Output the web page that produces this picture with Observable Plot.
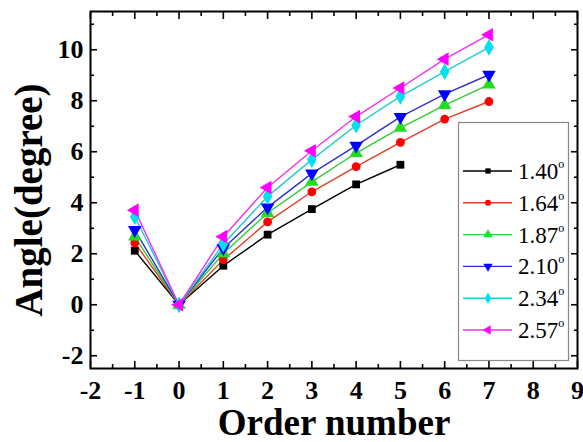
<!DOCTYPE html>
<html><head><meta charset="utf-8">
<script src="https://cdn.jsdelivr.net/npm/d3@7"></script>
<script src="https://cdn.jsdelivr.net/npm/@observablehq/plot@0.6"></script>
<style>
body{margin:0;background:#fff;}
#wrap{position:relative;width:583px;height:442px;}
#legend{position:absolute;left:0;top:0;}
</style></head>
<body><div id="wrap"></div>
<script>
const orders = [-1, 0, 1, 2, 3, 4, 5, 6, 7];
const seriesNames = ["1.40", "1.64", "1.87", "2.10", "2.34", "2.57"];
const colors = ["#000000", "#ff0000", "#22dd22", "#0000ff", "#00e0ee", "#ff00ff"];
const lineColors = ["#000000", "#e04020", "#33cc33", "#3030cc", "#22cccc", "#ee33ee"];
const s140 = [2.12, 0, 1.53, 2.75, 3.75, 4.72, 5.49];
const s164 = [2.43, 0, 1.76, 3.25, 4.43, 5.42, 6.37, 7.28, 7.97];
const s187 = [2.67, 0, 2.01, 3.60, 4.82, 5.95, 6.94, 7.83, 8.63];
const s210 = [2.93, 0, 2.22, 3.82, 5.15, 6.24, 7.37, 8.26, 9.02];
const s234 = [3.45, 0, 2.38, 4.25, 5.69, 7.04, 8.17, 9.14, 10.09];
const s257 = [3.71, 0, 2.67, 4.60, 6.04, 7.38, 8.50, 9.63, 10.59];
const xTicks = [-2, -1, 0, 1, 2, 3, 4, 5, 6, 7, 8, 9];
const yTicks = [-2, 0, 2, 4, 6, 8, 10];

const triangleDown = {draw(ctx, size){const y = -Math.sqrt(size/(Math.sqrt(3)*3)); const s = Math.sqrt(3);
  ctx.moveTo(0,-2*y); ctx.lineTo(s*y, y); ctx.lineTo(-s*y, y); ctx.closePath();}};
const triangleLeft = {draw(ctx, size){const y = -Math.sqrt(size/(Math.sqrt(3)*3)); const s = Math.sqrt(3);
  ctx.moveTo(2*y,0); ctx.lineTo(-y, -s*y); ctx.lineTo(-y, s*y); ctx.closePath();}};
const symbols = [d3.symbolSquare, d3.symbolCircle, d3.symbolTriangle, triangleDown, d3.symbolDiamond, triangleLeft];
const symScale = [1.0, 1.0, 1.15, 1.15, 1.15, 1.15];

const allSeries = [s140, s164, s187, s210, s234, s257];
const rows = [];
allSeries.forEach((vals, i) => vals.forEach((v, j) => rows.push({order: orders[j], angle: v, s: i})));

const font = "Liberation Serif, Times New Roman, serif";
const marks = [];
allSeries.forEach((vals, i) => {
  const d = rows.filter(r => r.s === i);
  marks.push(Plot.line(d, {x: "order", y: "angle", stroke: lineColors[i], strokeWidth: 1.4}));
});
allSeries.forEach((vals, i) => {
  const d = rows.filter(r => r.s === i);
  marks.push(Plot.dot(d, {x: "order", y: "angle", fill: colors[i], stroke: "none", symbol: symbols[i], r: 4.4 * symScale[i]}));
});

const minorX = d3.range(-1.5, 9, 1);
const minorY = d3.range(-1, 12, 2);
const tickStyle = {stroke: "#000", strokeWidth: 1.6, text: null, label: null};
const fmt = d => String(d);
marks.push(
  Plot.frame({stroke: "#000", strokeWidth: 2}),
  Plot.axisX(xTicks, {anchor: "bottom", tickSize: -7, ...tickStyle}),
  Plot.axisX(minorX, {anchor: "bottom", tickSize: -4, ...tickStyle}),
  Plot.axisX(xTicks, {anchor: "top", tickSize: -7, ...tickStyle}),
  Plot.axisX(minorX, {anchor: "top", tickSize: -4, ...tickStyle}),
  Plot.axisY(yTicks, {anchor: "left", tickSize: -7, ...tickStyle}),
  Plot.axisY(minorY, {anchor: "left", tickSize: -4, ...tickStyle}),
  Plot.axisY(yTicks, {anchor: "right", tickSize: -7, ...tickStyle}),
  Plot.axisY(minorY, {anchor: "right", tickSize: -4, ...tickStyle}),
  Plot.text(xTicks, {x: d => d, text: fmt, frameAnchor: "bottom", lineAnchor: "top", dy: 12, fontSize: 26, fontWeight: "bold", fontFamily: font, fill: "#000"}),
  Plot.text(yTicks, {y: d => d, text: fmt, frameAnchor: "left", textAnchor: "end", lineAnchor: "middle", dx: -7, fontSize: 26, fontWeight: "bold", fontFamily: font, fill: "#000"}),
  Plot.text(["Order number"], {frameAnchor: "bottom", lineAnchor: "bottom", dy: 66, fontSize: 37, fontWeight: "bold", fontFamily: font, fill: "#000"}),
  Plot.text(["Angle(degree)"], {frameAnchor: "left", textAnchor: "middle", lineAnchor: "middle", rotate: -90, dx: -61, dy: 10, fontSize: 39, fontWeight: "bold", fontFamily: font, fill: "#000"})
);

const chart = Plot.plot({
  width: 583, height: 442,
  marginLeft: 90, marginRight: 6, marginTop: 11, marginBottom: 74,
  x: {domain: [-2, 9], axis: null},
  y: {domain: [-2.5, 11.5], axis: null},
  style: {background: "#fff", color: "#000", fontFamily: font, overflow: "visible"},
  marks
});
document.getElementById("wrap").appendChild(chart);

// legend overlay
const lg = d3.select("#wrap").append("svg").attr("id", "legend").attr("width", 583).attr("height", 442);
lg.append("rect").attr("x", 458.5).attr("y", 122.5).attr("width", 110).attr("height", 238)
  .attr("fill", "#fff").attr("stroke", "#888").attr("stroke-width", 1.2);
seriesNames.forEach((name, i) => {
  const yy = 171 + i * 31.8;
  lg.append("line").attr("x1", 463).attr("x2", 512).attr("y1", yy).attr("y2", yy)
    .attr("stroke", lineColors[i]).attr("stroke-width", 1.4);
  const sz = Math.PI * Math.pow(3.0 * symScale[i], 2);
  lg.append("path").attr("d", d3.symbol(symbols[i], sz)()).attr("transform", `translate(488,${yy})`).attr("fill", colors[i]);
  const t = lg.append("text").attr("x", 518).attr("y", yy + 8).attr("font-family", font).attr("font-size", 23).attr("fill", "#000");
  t.append("tspan").text(name);
  t.append("tspan").attr("font-size", 12).attr("dy", -11).text("o");
});
</script></body></html>
